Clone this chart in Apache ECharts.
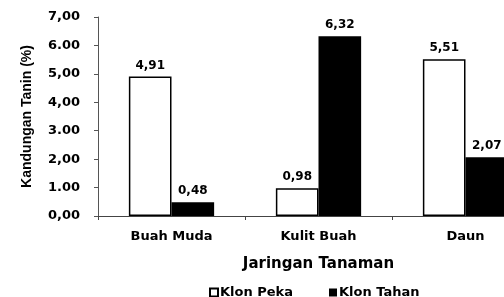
<!DOCTYPE html>
<html>
<head>
<meta charset="utf-8">
<script src="https://cdn.jsdelivr.net/npm/echarts@6/dist/echarts.min.js"></script>
<style>
  html, body { margin: 0; padding: 0; background: #fff; }
  #chart { width: 504px; height: 297px; }
</style>
</head>
<body>
<div id="chart"></div>
<script>
// data
const categories = ['Buah Muda', 'Kulit Buah', 'Daun']
const klonPeka = [4.91, 0.98, 5.51]
const klonTahan = [0.48, 6.32, 2.07]
const yTickLabels = ['0,00', '1.00', '2,00', '3.00', '4,00', '5,00', '6.00', '7,00']

const font = 'DejaVu Sans, Verdana, sans-serif'

const chart = echarts.init(document.getElementById('chart'))

const labelStyle = {
  show: true,
  position: 'top',
  distance: 5,
  color: '#000',
  fontFamily: font,
  fontWeight: 'bold',
  fontSize: 12,
  formatter: (p) => p.value.toFixed(2).replace('.', ',')
}

chart.setOption({
  animation: false,
  textStyle: { fontFamily: font },
  grid: {
    left: 98,
    top: 17,
    width: 441,
    bottom: 81,
    outerBoundsMode: 'none'
  },
  legend: {
    top: 281,
    left: 204,
    itemWidth: 8,
    itemHeight: 8,
    itemGap: 36,
    icon: 'rect',
    textStyle: {
      color: '#000',
      fontFamily: font,
      fontWeight: 'bold',
      fontSize: 13,
      padding: [0, 0, 0, -3]
    },
    data: ['Klon Peka', 'Klon Tahan']
  },
  xAxis: {
    type: 'category',
    data: categories,
    name: 'Jaringan Tanaman',
    nameLocation: 'middle',
    nameGap: 41,
    nameTextStyle: {
      color: '#000',
      fontFamily: font,
      fontWeight: 'bold',
      fontSize: 15
    },
    axisLine: { lineStyle: { color: '#444', width: 1 } },
    axisTick: { show: true, length: 4, lineStyle: { color: '#444' } },
    axisLabel: {
      color: '#000',
      fontFamily: font,
      fontWeight: 'bold',
      fontSize: 13,
      margin: 14
    }
  },
  yAxis: {
    type: 'value',
    min: 0,
    max: 7,
    interval: 1,
    name: 'Kandungan Tanin (%)',
    nameLocation: 'middle',
    nameGap: 64,
    nameTextStyle: {
      color: '#000',
      fontFamily: 'Liberation Sans, Arial, sans-serif',
      fontWeight: 'bold',
      fontSize: 14
    },
    axisLine: { show: true, lineStyle: { color: '#555', width: 1 } },
    axisTick: { show: true, length: 4, lineStyle: { color: '#555' } },
    splitLine: { show: false },
    axisLabel: {
      color: '#000',
      fontFamily: font,
      fontWeight: 'bold',
      fontSize: 13,
      margin: 18,
      formatter: (v) => yTickLabels[Math.round(v)]
    }
  },
  series: [
    {
      name: 'Klon Peka',
      type: 'bar',
      data: klonPeka,
      barGap: 0,
      barCategoryGap: '42%',
      itemStyle: { color: '#fff', borderColor: '#000', borderWidth: 1.5 },
      label: labelStyle
    },
    {
      name: 'Klon Tahan',
      type: 'bar',
      data: klonTahan,
      itemStyle: { color: '#000' },
      label: labelStyle
    }
  ]
})
</script>
</body>
</html>
